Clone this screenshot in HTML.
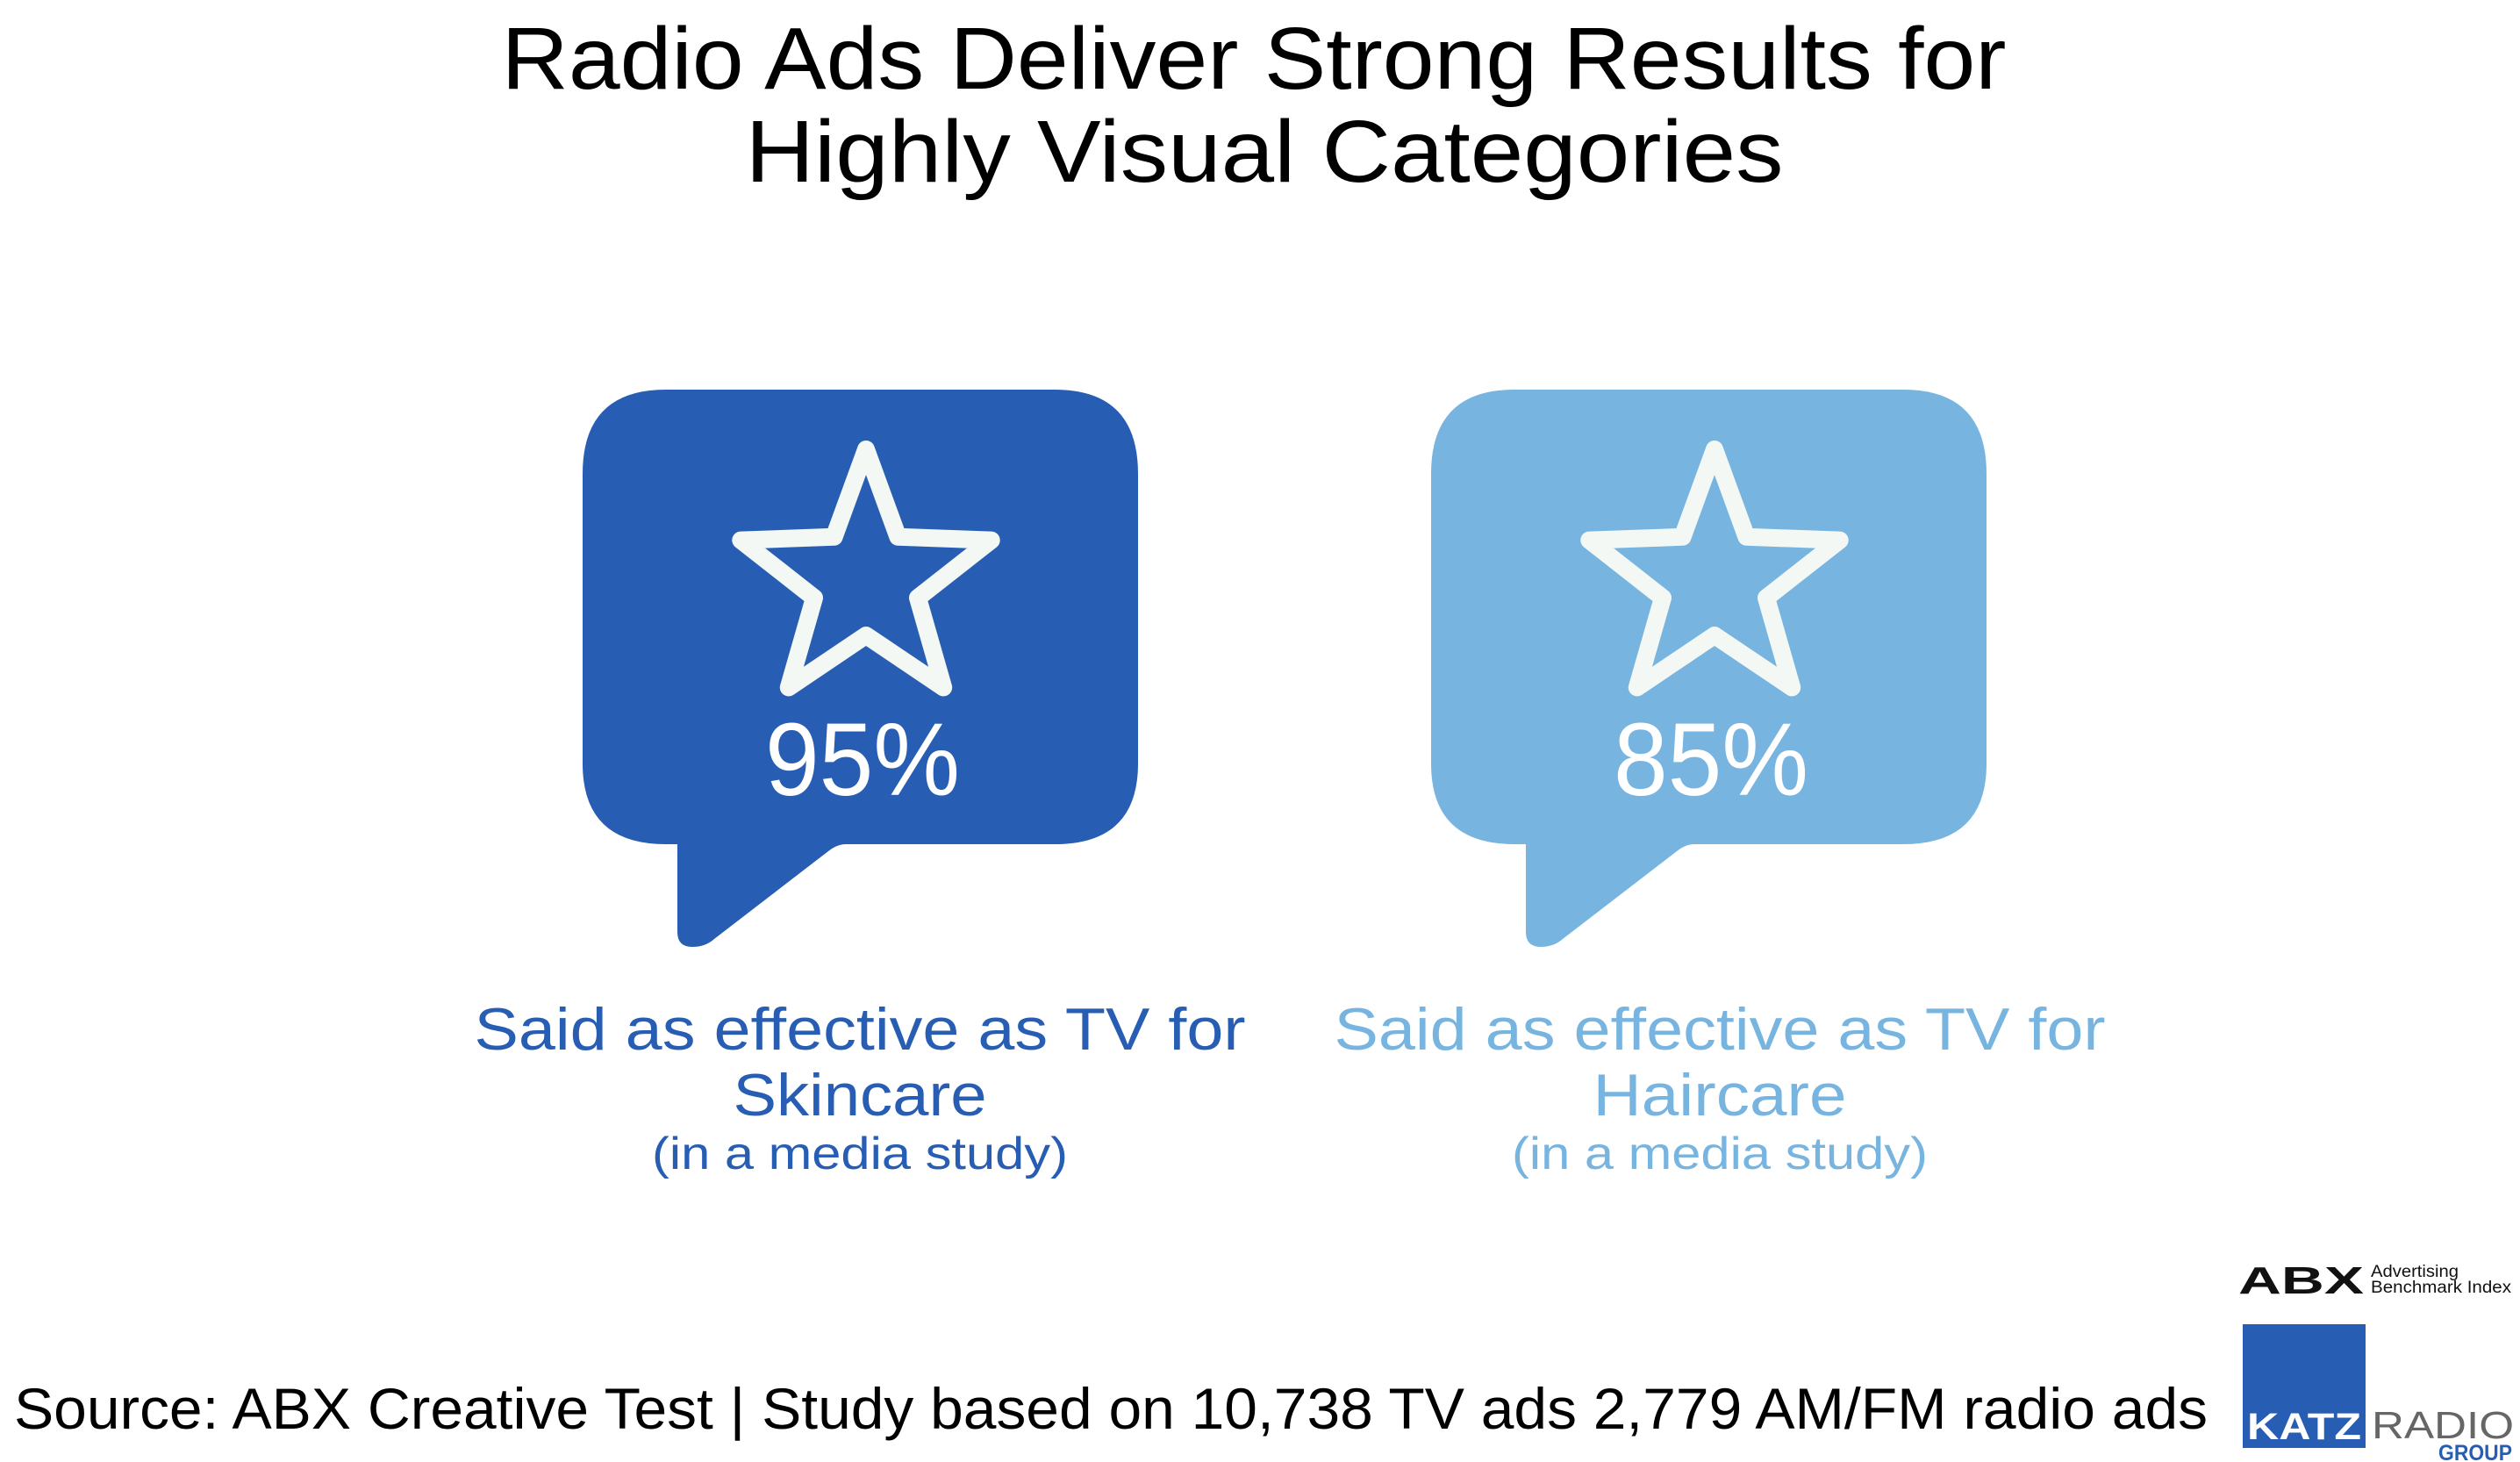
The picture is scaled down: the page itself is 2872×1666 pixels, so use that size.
<!DOCTYPE html>
<html><head><meta charset="utf-8"><style>
html,body{margin:0;padding:0;background:#fff}
svg{display:block}
text{font-family:"Liberation Sans",sans-serif}
</style></head><body>
<svg id="chart" width="2872" height="1666" viewBox="0 0 2872 1666" xmlns="http://www.w3.org/2000/svg">
<text x="1429" y="101" font-size="100" text-anchor="middle" fill="#000" textLength="1715" lengthAdjust="spacingAndGlyphs">Radio Ads Deliver Strong Results for</text>
<text x="1441" y="207" font-size="100" text-anchor="middle" fill="#000" textLength="1183" lengthAdjust="spacingAndGlyphs">Highly Visual Categories</text>
<g id="cards"></g>
<text x="16" y="1628" font-size="66" fill="#000" textLength="2500" lengthAdjust="spacingAndGlyphs">Source: ABX Creative Test | Study based on 10,738 TV ads 2,779 AM/FM radio ads</text>
<g>
<text x="2551" y="1474" font-size="44" font-weight="bold" fill="#111" textLength="143" lengthAdjust="spacingAndGlyphs">ABX</text>
<text x="2702" y="1455" font-size="19" fill="#111" textLength="100" lengthAdjust="spacingAndGlyphs">Advertising</text>
<text x="2702" y="1473" font-size="19" fill="#111" textLength="160" lengthAdjust="spacingAndGlyphs">Benchmark Index</text>
</g>
<g>
<rect x="2556" y="1509" width="140" height="141" fill="#275db3"/>
<text x="2561" y="1640" font-size="43" font-weight="bold" fill="#fff" textLength="130" lengthAdjust="spacingAndGlyphs">KATZ</text>
<text x="2703" y="1639" font-size="44" fill="#666" textLength="162" lengthAdjust="spacingAndGlyphs">RADIO</text>
<text x="2779" y="1664" font-size="25" font-weight="bold" fill="#275db3" textLength="84" lengthAdjust="spacingAndGlyphs">GROUP</text>
</g>
</svg>
<script>
const categories = ["Skincare", "Haircare"];
const values = [95, 85];
const labelPrefix = "Said as effective as TV for";
const subLabel = "(in a media study)";
const colors = ["#275db3", "#77b4e0"];
const NS = "http://www.w3.org/2000/svg";
const g = document.getElementById('cards');
const x0 = 664, step = 967;
function mk(tag, attrs, parent){const e=document.createElementNS(NS,tag);for(const k in attrs)e.setAttribute(k,attrs[k]);parent.appendChild(e);return e;}
categories.forEach((c,i)=>{
  const x = x0 + i*step, col = colors[i], cx = x+323;
  const grp = mk('g',{},g);
  
  
  const d = `M${x+95},444 H${x+538} Q${x+633},444 ${x+633},540 V870 Q${x+633},962 ${x+538},962 H${x+300} Q${x+290},962 ${x+280},970 L${x+150},1070 Q${x+140},1079 ${x+125},1079 Q${x+108},1079 ${x+108},1062 V962 H${x+95} Q${x},962 ${x},870 V540 Q${x},444 ${x+95},444 Z`;
  const b = mk('path',{d:d,fill:col},grp);
  
  
  let pts=[]; const R=150, r=62, cy=662;
  for(let k=0;k<10;k++){const a=-Math.PI/2+k*Math.PI/5, rr=k%2?r:R; pts.push((cx+rr*Math.cos(a)).toFixed(1)+','+(cy+rr*Math.sin(a)).toFixed(1));}
  const s = mk('polygon',{points:pts.join(' '),fill:'none',stroke:'#f3f8f5','stroke-width':20,'stroke-linejoin':'round'},grp);
  
  
  const v = mk('text',{x:cx-4,y:906,'font-size':118,'text-anchor':'middle',fill:'#fff',textLength:222,lengthAdjust:'spacingAndGlyphs'},grp);
  v.textContent = values[i] + '%';
  
  
  const lc = 980 + i*980;
  const t1 = mk('text',{x:lc,y:1196,'font-size':68,'text-anchor':'middle',fill:col,textLength:879,lengthAdjust:'spacingAndGlyphs'},grp);
  t1.textContent = labelPrefix;
  
  
  const t2 = mk('text',{x:lc,y:1271,'font-size':68,'text-anchor':'middle',fill:col,textLength:289,lengthAdjust:'spacingAndGlyphs'},grp);
  t2.textContent = c;
  
  
  const t3 = mk('text',{x:lc,y:1332,'font-size':52,'text-anchor':'middle',fill:col,textLength:474,lengthAdjust:'spacingAndGlyphs'},grp);
  t3.textContent = subLabel;
  
  
});
</script>
</body></html>
